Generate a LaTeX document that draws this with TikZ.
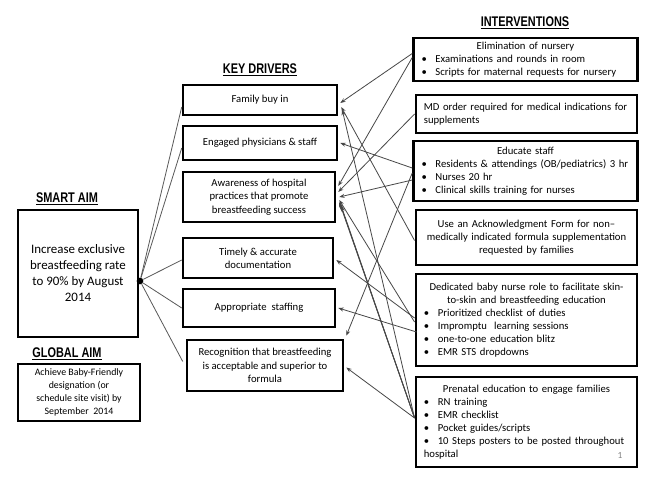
\documentclass[tikz,border=0pt]{standalone}
\usepackage{fontspec}
\setmainfont{Carlito}
\newfontfamily\titlefont[FakeStretch=0.78]{Liberation Sans}
\usetikzlibrary{arrows.meta,calc}
\newcommand\bitem[1]{\par\noindent\makebox[10.5pt][l]{\textbullet}#1}
\begin{document}
\begin{tikzpicture}[x=0.75pt,y=-0.75pt,
  ttl/.style={font=\titlefont\bfseries\fontsize{10.5}{12}\selectfont, inner sep=0pt},
  dbox/.style={draw, line width=1.9pt, align=center, inner sep=2pt, font=\fontsize{8}{10}\selectfont},
  ibox/.style={draw, line width=1.9pt, inner xsep=6pt, inner ysep=2pt, font=\fontsize{8}{9.8}\selectfont},
  conn/.style={draw=black!72, line width=0.6pt, -{Stealth[length=4pt,width=3pt]}},
  hubline/.style={draw=black!65, line width=0.6pt},
]
\fill[white] (0,0) rectangle (658,482);
\useasboundingbox (0,0) rectangle (658,482);

% titles
\node[ttl] (tsmart) at (67,199) {\underline{SMART AIM}};
\node[ttl] (tglobal) at (67,354) {\underline{GLOBAL AIM}};
\node[ttl] (tdrivers) at (260,70) {\underline{KEY DRIVERS}};
\node[ttl] (tinterv) at (525,23) {\underline{INTERVENTIONS}};

% aims
\node[draw, line width=1.9pt, minimum width=90pt, minimum height=95.25pt, align=center,
  font=\fontsize{9.7}{12}\selectfont] (smart) at (78,273.5)
  {Increase exclusive\\breastfeeding rate\\to 90\% by August\\2014};
\node[draw, line width=1.9pt, minimum width=91.5pt, minimum height=42.75pt, align=center, inner sep=1pt,
  font=\fontsize{7.4}{9.8}\selectfont] (global) at (79,392.5)
  {Achieve Baby-Friendly\\designation (or\\schedule site visit) by\\September\ \ 2014};

% key drivers
\node[dbox, minimum width=115.5pt, minimum height=22.5pt] (family) at (260,100) {Family buy in};
\node[dbox, minimum width=115.5pt, minimum height=25.5pt] (engaged) at (260,143) {Engaged physicians \& staff};
\node[dbox, minimum width=114pt, minimum height=37.5pt] (aware) at (259,197)
  {Awareness of hospital\\practices that promote\\breastfeeding success};
\node[dbox, minimum width=112.5pt, minimum height=30pt] (timely) at (258,258)
  {Timely \& accurate\\documentation};
\node[dbox, minimum width=114pt, minimum height=28.5pt] (staffing) at (259,308) {Appropriate\ \ staffing};
\node[dbox, minimum width=117pt, minimum height=38.25pt] (recog) at (265,365.5)
  {Recognition that breastfeeding\\is acceptable and superior to\\formula};

% interventions
\node[ibox, text width=156pt, minimum height=32.25pt] (elim) at (525.5,59.5)
  {\centerline{Elimination of nursery}
   \bitem{Examinations and rounds in room}
   \bitem{Scripts for maternal requests for nursery}};
\node[ibox, text width=154pt, minimum height=28.5pt] (md) at (526.5,114)
  {\noindent MD order required for medical indications for\par\noindent supplements};
\node[ibox, text width=156pt, minimum height=45pt] (educ) at (525.5,171)
  {\centerline{Educate staff}
   \bitem{Residents \& attendings (OB/pediatrics) 3 hr}
   \bitem{Nurses 20 hr}
   \bitem{Clinical skills training for nurses}};
\node[ibox, text width=154pt, minimum height=41.25pt, align=center] (ack) at (526.5,237.5)
  {Use an Acknowledgment Form for non–\\medically indicated formula supplementation\\requested by families};
\node[ibox, text width=154pt, minimum height=69pt] (dedic) at (526.5,320)
  {\centerline{Dedicated baby nurse role to facilitate skin-}
   \centerline{to-skin and breastfeeding education}
   \bitem{Prioritized checklist of duties}
   \bitem{Impromptu\ \ learning sessions}
   \bitem{one-to-one education blitz}
   \bitem{EMR STS dropdowns}};
\node[ibox, text width=154pt, minimum height=67.5pt] (prenat) at (526.5,422)
  {\centerline{Prenatal education to engage families}
   \bitem{RN training}
   \bitem{EMR checklist}
   \bitem{Pocket guides/scripts}
   \bitem{10 Steps posters to be posted throughout}\par\noindent hospital};
\node[font=\fontsize{7}{8}\selectfont, text=black!50, inner sep=0pt] (pnum) at (620,455) {1};

% hub from smart aim
\node[circle, fill=black, inner sep=0pt, minimum size=5pt] (hub) at (140,281) {};
\draw[hubline] (hub) -- ($(family.west)+(0,7)$);
\draw[hubline] (hub) -- ($(engaged.west)+(0,5)$);
\draw[hubline] (hub) -- ($(timely.west)+(0,2)$);
\draw[hubline] (hub) -- (staffing.west);
\draw[hubline] (hub) -- ($(recog.west)+(-3,-4)$);

% intervention -> driver connectors
\draw[conn] ($(elim.west)+(0,-6)$) -- ($(family.east)+(2,3)$);
\draw[conn] ($(elim.west)+(0,-2)$) -- ($(aware.east)+(2,-11)$);
\draw[conn] (md.west) -- ($(aware.east)+(2,-5)$);
\draw[conn] ($(educ.west)+(0,-3)$) -- ($(engaged.east)+(2,0)$);
\draw[conn] ($(educ.west)+(0,9)$) -- ($(aware.east)+(3,0)$);
\draw[conn] ($(educ.west)+(0,2)$) -- ($(recog.north east)+(2,-3)$);
\draw[conn] ($(ack.west)+(0,3)$) -- ($(family.east)+(3,7)$);
\draw[conn] ($(dedic.west)+(0,2)$) -- ($(aware.east)+(3,3)$);
\draw[conn] ($(dedic.west)+(0,-2)$) -- ($(timely.east)+(2,2)$);
\draw[conn] ($(dedic.west)+(2,12)$) -- ($(staffing.east)+(2,0)$);
\draw[conn] ($(prenat.west)+(0,-4)$) -- ($(family.east)+(4,10)$);
\draw[conn] ($(prenat.west)+(0,-4)$) -- ($(aware.east)+(3,5)$);
\draw[conn] ($(prenat.west)+(0,-4)$) -- ($(aware.east)+(4,7)$);
\draw[conn] ($(prenat.west)+(0,-4)$) -- ($(aware.east)+(5,9)$);
\draw[conn] ($(prenat.west)+(0,-4)$) -- ($(recog.east)+(2,2)$);
\end{tikzpicture}
\end{document}
